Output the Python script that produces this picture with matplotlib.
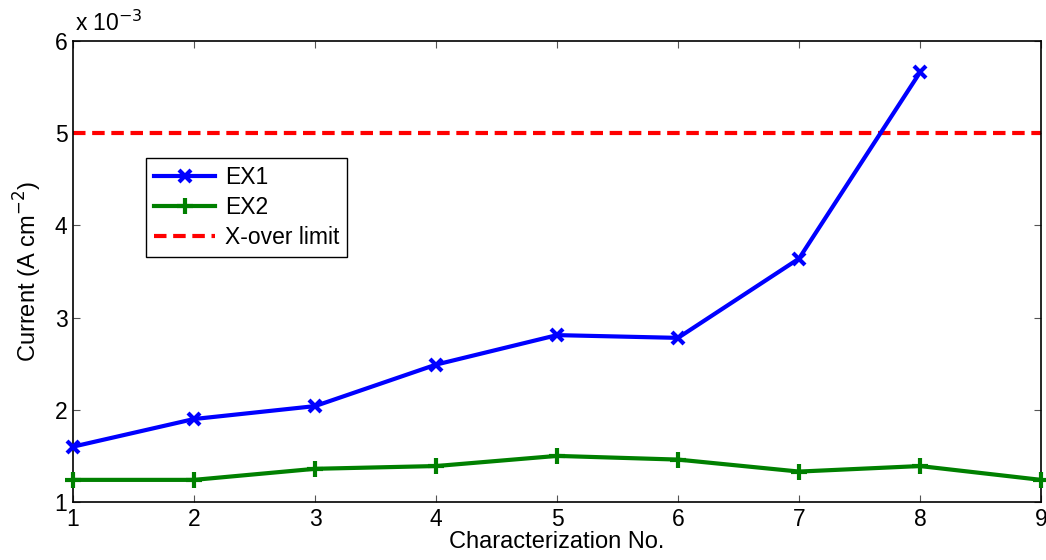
import matplotlib
matplotlib.use("Agg")
import matplotlib.pyplot as plt

# values shown on the axis (scaled by 1e-3)
char_no = [1, 2, 3, 4, 5, 6, 7, 8, 9]
ex1 = [1.60, 1.90, 2.04, 2.49, 2.81, 2.78, 3.64, 5.66]
ex2 = [1.24, 1.24, 1.36, 1.39, 1.50, 1.46, 1.33, 1.39, 1.24]
xover_limit = 5.0

plt.rcParams["font.family"] = ["Liberation Sans", "DejaVu Sans"]

fig = plt.figure(figsize=(10.46, 5.6), dpi=100)
ax = fig.add_axes([73 / 1046, 58 / 560, 968 / 1046, 461 / 560])

ax.plot(char_no[:len(ex1)], ex1, color="#0000ff", lw=3, marker="x",
        ms=9, mew=3, label="EX1", clip_on=False, zorder=3)
ax.plot(char_no, ex2, color="#008000", lw=3, marker="+",
        ms=12, mew=3, label="EX2", clip_on=False, zorder=3)
ax.axhline(xover_limit, color="#ff0000", lw=3, ls=(0, (3, 1.6)),
           label="X-over limit")

ax.set_xlim(1, 9)
ax.set_ylim(1, 6)
ax.set_xticks(char_no)
ax.set_yticks([1, 2, 3, 4, 5, 6])
ax.tick_params(direction="in", top=True, right=True, length=5,
               labelsize=16.5, color="#555555", pad=4)
for s in ax.spines.values():
    s.set_linewidth(1.2)

ax.set_xlabel("Characterization No.", fontsize=17, labelpad=0)
ax.set_ylabel("Current (A cm$^{-2}$)", fontsize=17, labelpad=8)
ax.text(0.002, 1.01, r"x 10$^{-3}$", transform=ax.transAxes,
        fontsize=16.5, ha="left", va="bottom")

leg = ax.legend(loc="upper left", bbox_to_anchor=(0.075, 0.746),
                fontsize=16.5, frameon=True, fancybox=False,
                handlelength=2.7, handletextpad=0.4, borderpad=0.35,
                labelspacing=0.3, borderaxespad=0)
leg.get_frame().set_edgecolor("black")
leg.get_frame().set_linewidth(1.0)
leg.get_frame().set_alpha(1)

fig.savefig("out.png", dpi=100)
